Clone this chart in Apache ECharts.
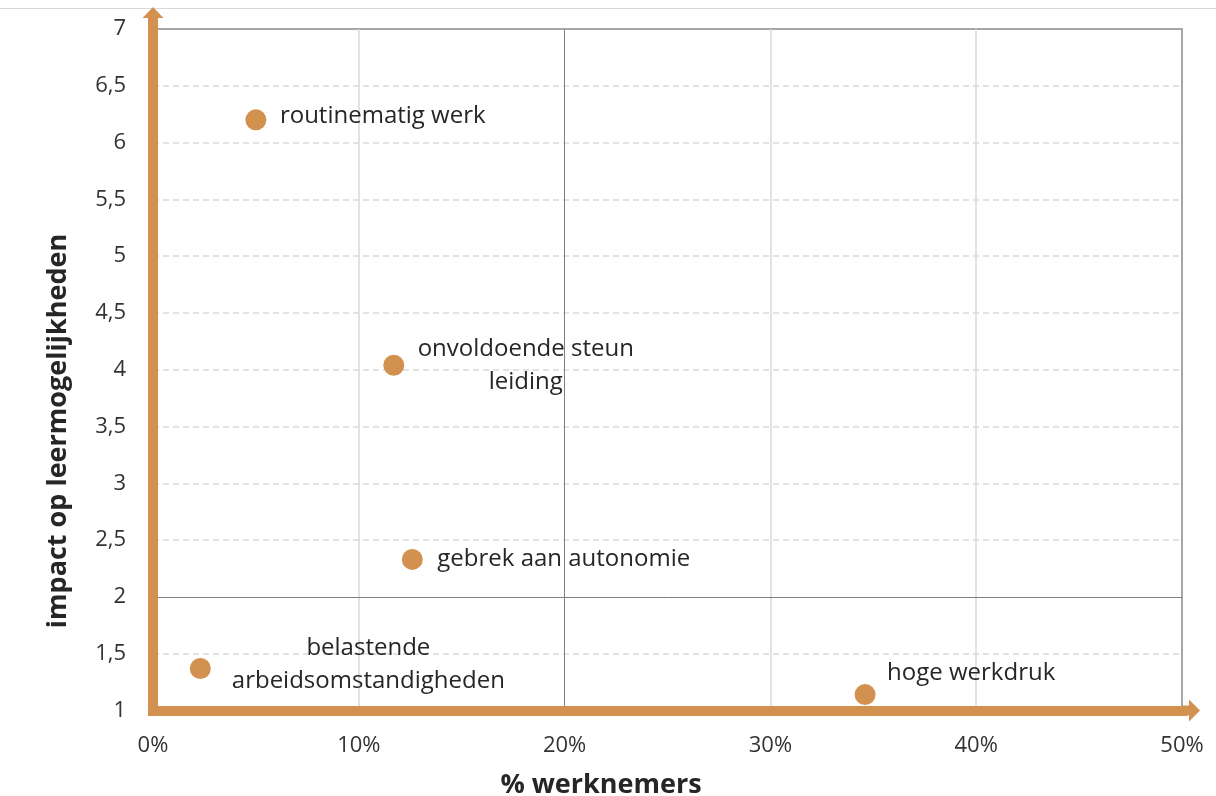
<!DOCTYPE html>
<html><head><meta charset="utf-8">
<script src="https://cdn.jsdelivr.net/npm/echarts@6/dist/echarts.min.js"></script>
<style>html,body{margin:0;padding:0;background:#fff}#c{width:1216px;height:796px}</style>
</head><body><div id="c"></div>
<script>
// ---- data ----
const categories = ['routinematig werk', 'onvoldoende steun\nleiding', 'gebrek aan autonomie', 'belastende\narbeidsomstandigheden', 'hoge werkdruk'];
const pctWerknemers = [5.0, 11.7, 12.6, 2.3, 34.6];
const impact = [6.2, 4.04, 2.33, 1.37, 1.14];
const xTicks = [0, 10, 20, 30, 40, 50];
const yTicks = [1, 1.5, 2, 2.5, 3, 3.5, 4, 4.5, 5, 5.5, 6, 6.5, 7];
const xTitle = '% werknemers';
const yTitle = 'impact op leermogelijkheden';

// ---- styling ----
const ORANGE = '#D3914F';
const labelLayout = [
  { align: 'left', offset: [24, -4] },
  { align: 'center', offset: [132, 0] },
  { align: 'left', offset: [25, 0] },
  { align: 'center', offset: [168, -4] },
  { align: 'left', offset: [22, -21] }
];
const xSplitColors = xTicks.map(v => (v === 0 || v === 20 || v === 50) ? 'rgba(0,0,0,0)' : '#d9d9d9');
const ySplitColors = yTicks.map(v => (v === 1 || v === 2 || v === 7) ? 'rgba(0,0,0,0)' : '#d9d9d9');

const data = categories.map((n, i) => ({
  name: n,
  value: [pctWerknemers[i], impact[i]],
  label: { align: labelLayout[i].align, offset: labelLayout[i].offset }
}));

const chart = echarts.init(document.getElementById('c'), null, { renderer: 'canvas' });
chart.setOption({
  animation: false,
  backgroundColor: '#fff',
  textStyle: { fontFamily: '"Open Sans", sans-serif' },
  grid: { left: 153, right: 34, top: 29, bottom: 85.5, show: true, borderColor: '#a6a6a6', borderWidth: 2, backgroundColor: 'transparent' },
  xAxis: {
    type: 'value', min: xTicks[0], max: xTicks[xTicks.length - 1], interval: xTicks[1] - xTicks[0],
    axisLine: { show: true, lineStyle: { color: ORANGE, width: 10, cap: 'square' },
      symbol: ['none', 'path://M11,0 L22,11 L16,11 L16,18 L6,18 L6,11 L0,11 Z'], symbolSize: [22, 18], symbolOffset: [0, 9] },
    axisTick: { show: false },
    axisLabel: { formatter: v => v + '%', fontSize: 22, color: '#333', margin: 24, fontFamily: '"Open Sans", sans-serif' },
    splitLine: { show: true, lineStyle: { color: xSplitColors, width: 1.5 } }
  },
  yAxis: {
    type: 'value', min: yTicks[0], max: yTicks[yTicks.length - 1], interval: yTicks[1] - yTicks[0],
    axisLine: { show: true, lineStyle: { color: ORANGE, width: 10, cap: 'square' },
      symbol: ['none', 'path://M10.5,0 L21,11 L15.5,11 L15.5,22 L5.5,22 L5.5,11 L0,11 Z'], symbolSize: [21, 22], symbolOffset: [0, 11] },
    axisTick: { show: false },
    axisLabel: { formatter: v => String(v).replace('.', ','), fontSize: 22, color: '#333', margin: 27, fontFamily: '"Open Sans", sans-serif' },
    splitLine: { show: true, lineStyle: { color: ySplitColors, width: 1.5, type: [6, 4] } }
  },
  series: [{
    type: 'scatter',
    symbol: 'circle',
    symbolSize: 21,
    itemStyle: { color: ORANGE, opacity: 1 },
    label: {
      show: true, position: 'inside', verticalAlign: 'middle',
      formatter: p => p.name,
      fontSize: 24, lineHeight: 33, color: '#262626', fontFamily: '"Open Sans", sans-serif'
    },
    emphasis: { disabled: true },
    data: data,
    markLine: {
      silent: true, symbol: 'none', z: 0,
      label: { show: false },
      lineStyle: { color: '#7f7f7f', width: 1, type: 'solid' },
      data: [{ xAxis: xTicks[2] }, { yAxis: yTicks[2] }]
    }
  }],
  graphic: [
    { type: 'line', shape: { x1: 0, y1: 8.5, x2: 1216, y2: 8.5 }, style: { stroke: '#d9d9d9', lineWidth: 1 }, silent: true },
    { type: 'text', x: 601, y: 785, silent: true,
      style: { text: xTitle, font: 'bold 27px "Open Sans", sans-serif', fill: '#262626', align: 'center', verticalAlign: 'middle' } },
    { type: 'text', x: 58, y: 431, rotation: Math.PI / 2, silent: true,
      style: { text: yTitle, font: 'bold 27px "Open Sans", sans-serif', fill: '#262626', align: 'center', verticalAlign: 'middle' } }
  ]
});
</script>
</body></html>
